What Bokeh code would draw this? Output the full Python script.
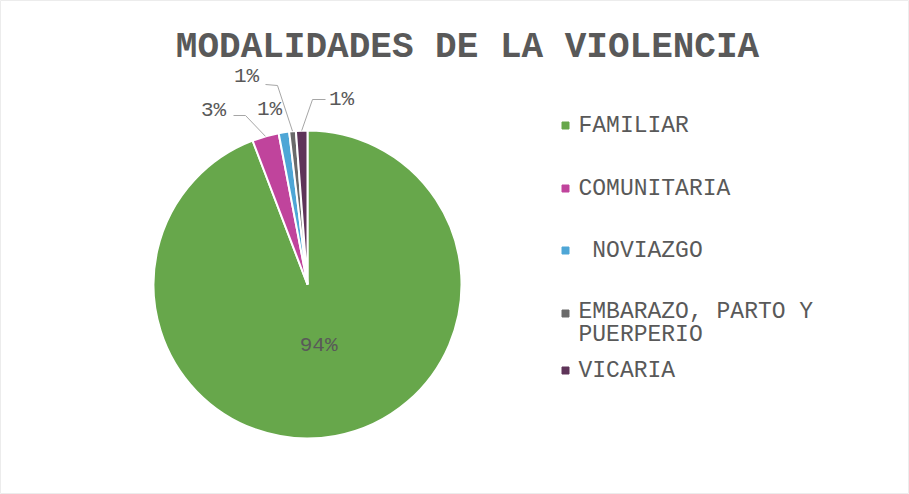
import numpy as np
from bokeh.plotting import figure
from bokeh.models import Range1d, Label, ColumnDataSource
from bokeh.core.properties import value
from bokeh.embed import file_html
from bokeh.resources import INLINE

# ---------------- data ----------------
title_text = "MODALIDADES DE LA VIOLENCIA"
categories = ["FAMILIAR", "COMUNITARIA", "\u00a0NOVIAZGO", "EMBARAZO, PARTO Y\nPUERPERIO", "VICARIA"]
shares = [94.2, 2.8, 1.1, 0.7, 1.2]
colors = ["#67a74b", "#c0449c", "#4ea6d6", "#6a6a6a", "#5e3459"]

# ---------------- layout ----------------
W, H = 909, 494
FONT = "Liberation Mono"
TXT = "#595959"
cx, cy, R = 307, 210, 154

def img_y(y):  # screenshot y -> data y
    return H - y

total = float(sum(shares))
frac = np.array(shares) / total
cum = np.concatenate([[0.0], np.cumsum(frac)])
start = np.pi / 2 - cum[1:] * 2 * np.pi
end = np.pi / 2 - cum[:-1] * 2 * np.pi
mid = (start + end) / 2
pct = [f"{round(f * 100):.0f}%" for f in frac]

p = figure(width=W, height=H, x_range=Range1d(0, W), y_range=Range1d(0, H),
           output_backend="svg", toolbar_location=None, min_border=0,
           x_axis_type=None, y_axis_type=None)
p.grid.visible = False
p.outline_line_color = "#ececec"
p.background_fill_color = "white"
p.border_fill_color = "white"

src = ColumnDataSource(dict(start=start, end=end, color=colors, cat=categories))
p.wedge(x=cx, y=cy, radius=R, start_angle="start", end_angle="end",
        fill_color="color", line_color="white", line_width=2, source=src)

# data labels: offsets from pie centre (px), None = inside label
label_off = [None, (-94, 174), (-38, 175), (-61, 208), (34, 185)]
# leader lines: (text-side point, elbow) offsets, None = no leader
leaders = [None, ((-74, 169), (-62, 169)), None, ((-42, 200), (-30, 199)), ((18, 185), (5, 185))]

lx, ly = [], []
mx, my = [], []
for i in range(len(shares)):
    if label_off[i] is None:
        lx.append(cx + 0.4 * R * np.cos(mid[i]))
        ly.append(cy + 0.4 * R * np.sin(mid[i]))
    else:
        lx.append(cx + label_off[i][0])
        ly.append(cy + label_off[i][1])
    if leaders[i] is not None:
        (tx, ty), (ex, ey) = leaders[i]
        px_ = cx + R * np.cos(mid[i])
        py_ = cy + R * np.sin(mid[i])
        mx.append([cx + tx, cx + ex, px_])
        my.append([cy + ty, cy + ey, py_])

p.multi_line(xs=mx, ys=my, line_color="#a6a6a6", line_width=1)
p.text(x=lx, y=ly, text=pct, text_font=value(FONT), text_font_size="21px",
       text_color=TXT, text_align="center", text_baseline="middle")

# legend (manual, Excel-like)
leg_marker_x = 565
leg_text_x = 578
leg_rows_img = [125, 188, 250, 313, 370]
line_h = 20
mk_y, tx_y = [], []
for i, c in enumerate(categories):
    n = c.count("\n") + 1
    mk_y.append(img_y(leg_rows_img[i]))
    tx_y.append(img_y(leg_rows_img[i] + (n - 1) * line_h / 2))
p.scatter(x=[leg_marker_x] * len(categories), y=mk_y, marker="square", size=7,
          fill_color=colors, line_color=colors)
p.text(x=[leg_text_x] * len(categories), y=tx_y, text=categories,
       text_font=value(FONT), text_font_size="23px", text_color=TXT,
       text_align="left", text_baseline="middle", text_line_height=0.85)

title = Label(x=467, y=img_y(47), text=title_text, text_font=FONT,
              text_font_size="36px", text_font_style="bold", text_color=TXT,
              text_align="center", text_baseline="middle")
p.add_layout(title)

open("out.html", "w").write(file_html(p, INLINE))
